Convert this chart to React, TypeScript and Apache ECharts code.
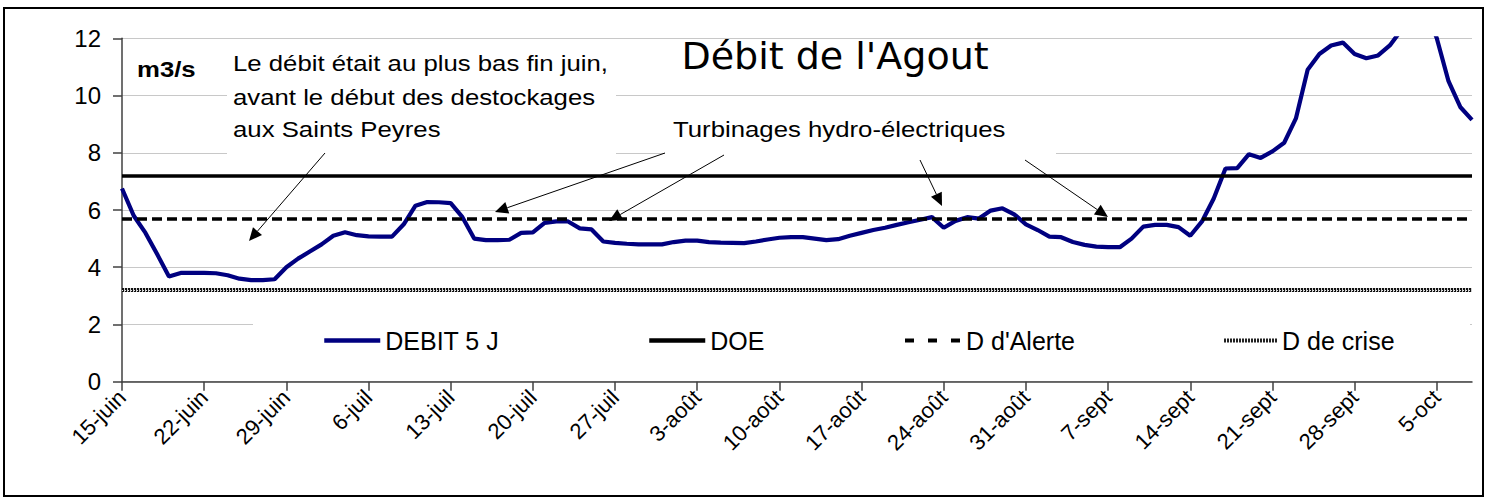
import React, { useEffect, useRef } from 'react';
import * as echarts from 'echarts';

// Tick labels (one every 7 days, from 15-juin)
const tickLabels = [
  '15-juin', '22-juin', '29-juin', '6-juil', '13-juil', '20-juil', '27-juil', '3-août',
  '10-août', '17-août', '24-août', '31-août', '7-sept', '14-sept', '21-sept', '28-sept', '5-oct',
];

// Daily flow (5-day mean), m3/s, from 15-juin to 8-oct
const debit5J = [
  6.75, 5.8, 5.2, 4.45, 3.68, 3.8, 3.8,
  3.8, 3.79, 3.72, 3.6, 3.55, 3.55, 3.58,
  4.0, 4.3, 4.55, 4.8, 5.1, 5.22, 5.12,
  5.08, 5.07, 5.07, 5.5, 6.15, 6.28, 6.27,
  6.24, 5.75, 5.0, 4.95, 4.95, 4.96, 5.2,
  5.22, 5.55, 5.6, 5.6, 5.36, 5.32, 4.9,
  4.85, 4.82, 4.8, 4.8, 4.8, 4.88, 4.93,
  4.93, 4.88, 4.86, 4.85, 4.84, 4.9, 4.97,
  5.03, 5.05, 5.05, 5.0, 4.95, 4.98, 5.1,
  5.2, 5.3, 5.38, 5.48, 5.57, 5.66, 5.75,
  5.38, 5.62, 5.75, 5.7, 5.98, 6.06, 5.85,
  5.5, 5.3, 5.07, 5.05, 4.88, 4.78, 4.72,
  4.7, 4.7, 5.0, 5.42, 5.48, 5.48, 5.4,
  5.1, 5.6, 6.4, 7.45, 7.46, 7.95, 7.82,
  8.05, 8.35, 9.2, 10.9, 11.45, 11.75, 11.85,
  11.45, 11.3, 11.4, 11.75, 12.3, 12.9, 13.1,
  12.0, 10.5, 9.6, 9.15,
];

const dayIndex = debit5J.map((_, i) => String(i));

// Thresholds (m3/s)
const doeLevel = 7.2;
const alerteLevel = 5.7;
const criseLevel = 3.2;

const seriesNames = ['DEBIT 5 J', 'DOE', "D d'Alerte", 'D de crise'];

const FONT = '"Liberation Sans", Arial, Helvetica, sans-serif';

function arrow(x1: number, y1: number, x2: number, y2: number) {
  const dx = x2 - x1;
  const dy = y2 - y1;
  const len = Math.sqrt(dx * dx + dy * dy);
  const ux = dx / len;
  const uy = dy / len;
  const hl = 13;
  const hw = 6;
  const bx = x2 - ux * hl;
  const by = y2 - uy * hl;
  return [
    {
      type: 'line',
      z: 20,
      shape: { x1, y1, x2: bx, y2: by },
      style: { stroke: '#000', lineWidth: 1 },
    },
    {
      type: 'polygon',
      z: 20,
      shape: {
        points: [
          [x2, y2],
          [bx - uy * hw, by + ux * hw],
          [bx + uy * hw, by - ux * hw],
        ],
      },
      style: { fill: '#000' },
    },
  ];
}

function txt(x: number, y: number, text: string, font: string, align = 'left', sx = 1.12) {
  return {
    type: 'text',
    x,
    y,
    z: 20,
    scaleX: sx,
    style: {
      text,
      font,
      fill: '#000',
      align,
      textAlign: align,
      verticalAlign: 'middle',
      textVerticalAlign: 'middle',
    },
  };
}

function whiteBox(x: number, y: number, w: number, h: number) {
  return {
    type: 'rect',
    z: 1,
    shape: { x, y, width: w, height: h },
    style: { fill: '#fff' },
  };
}

export default function App() {
  const ref = useRef<HTMLDivElement>(null);

  useEffect(() => {
    if (!ref.current) return;
    const chart = echarts.init(ref.current, undefined, { renderer: 'svg' });

    const legendBase = {
      top: 328,
      padding: 0,
      itemHeight: 24,
      itemWidth: 56,
      itemGap: 6,
      selectedMode: false,
      itemStyle: { opacity: 0 },
      textStyle: { fontSize: 25, fontFamily: FONT, color: '#000', lineHeight: 24 },
    };

    const option: any = {
      animation: false,
      backgroundColor: '#fff',
      grid: { left: 122, right: 18, top: 38.3, bottom: 117.3, containLabel: false },
      legend: [
        { ...legendBase, data: [seriesNames[0]], left: 322, lineStyle: { width: 4.5, color: '#000080' } },
        { ...legendBase, data: [seriesNames[1]], left: 647, lineStyle: { width: 4.5, color: '#000' } },
        {
          ...legendBase,
          data: [seriesNames[2]],
          left: 903,
          lineStyle: { width: 4, color: '#000', type: [9, 14] },
        },
        {
          ...legendBase,
          data: [seriesNames[3]],
          left: 1222,
          itemWidth: 53,
          lineStyle: { width: 4, color: '#222', type: [2, 1] },
        },
      ],
      xAxis: {
        type: 'category',
        data: dayIndex,
        boundaryGap: false,
        axisLine: { show: true, lineStyle: { color: '#404040', width: 1.5 } },
        axisTick: {
          show: true,
          length: 9,
          interval: (idx: number) => idx % 7 === 0,
          lineStyle: { color: '#404040', width: 1.5 },
        },
        axisLabel: {
          interval: (idx: number) => idx % 7 === 0,
          formatter: (_v: string, idx: number) => tickLabels[idx / 7] ?? '',
          rotate: 45,
          margin: 12,
          fontSize: 22,
          fontFamily: FONT,
          color: '#000',
        },
        splitLine: { show: false },
      },
      yAxis: {
        type: 'value',
        min: 0,
        max: 12,
        interval: 2,
        axisLine: { show: true, lineStyle: { color: '#404040', width: 1.5 } },
        axisTick: { show: true, length: 9, lineStyle: { color: '#404040', width: 1.5 } },
        axisLabel: { fontSize: 24, fontFamily: FONT, color: '#000', margin: 21 },
        splitLine: { show: true, lineStyle: { color: '#c8c8c8', width: 1 } },
      },
      series: [
        {
          name: seriesNames[0],
          type: 'line',
          data: debit5J,
          symbol: 'none',
          showSymbol: false,
          clip: true,
          z: 4,
          lineStyle: { color: '#000080', width: 4.2 },
          itemStyle: { color: '#000080' },
        },
        {
          name: seriesNames[1],
          type: 'line',
          data: [],
          symbol: 'none',
          z: 3,
          lineStyle: { color: '#000', width: 3.5 },
          itemStyle: { color: '#000' },
          markLine: {
            silent: true,
            symbol: 'none',
            label: { show: false },
            lineStyle: { color: '#000', width: 3.5, type: 'solid' },
            data: [{ yAxis: doeLevel }],
          },
        },
        {
          name: seriesNames[2],
          type: 'line',
          data: [],
          symbol: 'none',
          z: 3,
          lineStyle: { color: '#000', width: 3.5, type: [10, 5] },
          itemStyle: { color: '#000' },
          markLine: {
            silent: true,
            symbol: 'none',
            label: { show: false },
            lineStyle: { color: '#000', width: 3.5, type: [10, 5] },
            data: [{ yAxis: alerteLevel }],
          },
        },
        {
          name: seriesNames[3],
          type: 'line',
          data: [],
          symbol: 'none',
          z: 3,
          lineStyle: { color: '#222', width: 4, type: [2, 1] },
          itemStyle: { color: '#222' },
          markLine: {
            silent: true,
            symbol: 'none',
            label: { show: false },
            data: [
              { yAxis: criseLevel, lineStyle: { color: '#111', width: 4, type: [2.2, 0.8] } },
              { yAxis: criseLevel, lineStyle: { color: '#fff', width: 0.9, type: [1, 2] } },
            ],
          },
        },
      ],
      graphic: [
        // text boxes hiding the gridlines behind them
        whiteBox(227, 44, 389, 114),
        whiteBox(665, 106, 391, 52),
        whiteBox(253, 300, 1217, 72),
        // texts
        txt(835, 56, "Débit de l'Agout", '38px "Comic Sans MS", "DejaVu Sans", sans-serif', 'center', 1),
        txt(137, 69, 'm3/s', `bold 23px ${FONT}`),
        txt(233, 63, 'Le débit était au plus bas fin juin,', `23px ${FONT}`),
        txt(233, 97, 'avant le début des destockages', `23px ${FONT}`),
        txt(233, 129, 'aux Saints Peyres', `23px ${FONT}`),
        txt(673, 129, 'Turbinages hydro-électriques', `23px ${FONT}`),
        // arrows
        ...arrow(325, 153, 249, 241),
        ...arrow(665, 153, 495, 212),
        ...arrow(724, 155, 609, 221),
        ...arrow(920, 160, 942, 206),
        ...arrow(1025, 160, 1108, 217),
        // outer frame
        {
          type: 'rect',
          z: 30,
          shape: { x: 4, y: 8, width: 1479, height: 488 },
          style: { fill: 'none', stroke: '#000', lineWidth: 2 },
        },
      ],
    };

    chart.setOption(option);
    return () => chart.dispose();
  }, []);

  return (
    <div
      ref={ref}
      style={{ position: 'fixed', left: 0, top: 0, width: 1490, height: 499, background: '#fff' }}
    />
  );
}
